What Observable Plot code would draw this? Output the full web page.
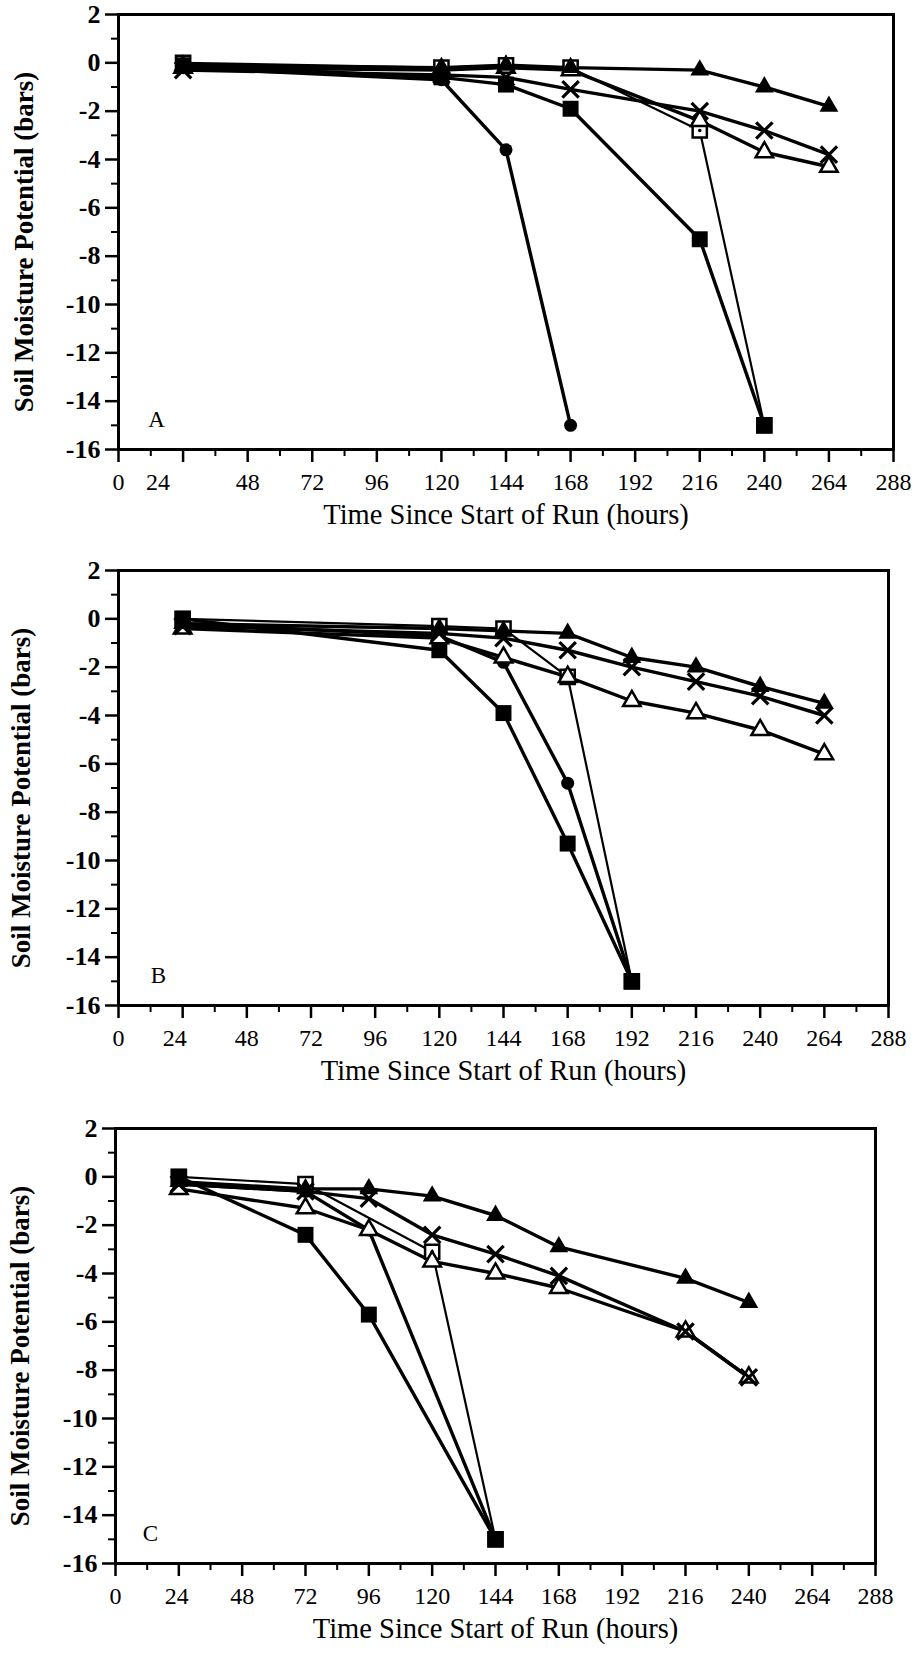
<!DOCTYPE html>
<html>
<head>
<meta charset="utf-8">
<script src="https://cdn.jsdelivr.net/npm/d3@7"></script>
<script src="https://cdn.jsdelivr.net/npm/@observablehq/plot@0.6"></script>
<style>
html, body { margin: 0; padding: 0; background: #fff; }
#root { position: relative; width: 919px; height: 1661px; background: #fff; }
.panel { position: absolute; left: 0; }
.panel text { font-family: 'Liberation Serif', 'Times New Roman', serif; }
</style>
</head>
<body>
<div id="root"></div>
<script>
// ---------- tick values ----------
const yTicks = [2, 0, -2, -4, -6, -8, -10, -12, -14, -16];
const yMinor = [1, -1, -3, -5, -7, -9, -11, -13, -15];
const xTicks = [0, 24, 48, 72, 96, 120, 144, 168, 192, 216, 240, 264, 288];
const xMinor = [12, 36, 60, 84, 108, 132, 156, 180, 204, 228, 252, 276];

const yTitle = "Soil Moisture Potential (bars)";
const xTitle = "Time Since Start of Run (hours)";
const panelLetters = ["A", "B", "C"];

// ---------- data: [hours, bars] ----------
// Panel A
const A_filledSquare   = [[24, -0.1], [120, -0.6], [144, -0.9], [168, -1.9], [216, -7.3], [240, -15]];
const A_openSquare     = [[24, 0.0], [120, -0.2], [144, -0.1], [168, -0.2], [216, -2.8], [240, -15]];
const A_filledCircle   = [[24, -0.2], [120, -0.7], [144, -3.6], [168, -15]];
const A_cross          = [[24, -0.3], [120, -0.5], [144, -0.6], [168, -1.1], [216, -2.0], [240, -2.8], [264, -3.8]];
const A_filledTriangle = [[24, -0.1], [120, -0.2], [144, -0.1], [168, -0.2], [216, -0.3], [240, -1.0], [264, -1.8]];
const A_openTriangle   = [[24, -0.2], [120, -0.3], [144, -0.2], [168, -0.3], [216, -2.4], [240, -3.7], [264, -4.3]];

// Panel B
const B_filledSquare   = [[24, 0.0], [120, -1.3], [144, -3.9], [168, -9.3], [192, -15]];
const B_openSquare     = [[24, 0.0], [120, -0.3], [144, -0.4], [168, -2.4], [192, -15]];
const B_filledCircle   = [[24, -0.2], [120, -0.7], [144, -1.8], [168, -6.8], [192, -15]];
const B_cross          = [[24, -0.3], [120, -0.6], [144, -0.8], [168, -1.3], [192, -2.0], [216, -2.6], [240, -3.2], [264, -4.0]];
const B_filledTriangle = [[24, -0.2], [120, -0.4], [144, -0.5], [168, -0.6], [192, -1.6], [216, -2.0], [240, -2.8], [264, -3.5]];
const B_openTriangle   = [[24, -0.4], [120, -0.8], [144, -1.6], [168, -2.4], [192, -3.4], [216, -3.9], [240, -4.6], [264, -5.6]];

// Panel C
const C_filledSquare   = [[24, 0.0], [72, -2.4], [96, -5.7], [144, -15]];
const C_openSquare     = [[24, 0.0], [72, -0.3], [120, -3.1], [144, -15]];
const C_filledCircle   = [[24, -0.3], [72, -0.6], [96, -2.2], [144, -15]];
const C_cross          = [[24, -0.3], [72, -0.6], [96, -0.9], [120, -2.4], [144, -3.2], [168, -4.1], [216, -6.4], [240, -8.3]];
const C_filledTriangle = [[24, -0.2], [72, -0.5], [96, -0.5], [120, -0.8], [144, -1.6], [168, -2.9], [216, -4.2], [240, -5.2]];
const C_openTriangle   = [[24, -0.5], [72, -1.3], [96, -2.2], [120, -3.5], [144, -4.0], [168, -4.6], [216, -6.4], [240, -8.3]];

const panelsData = [
  {openSquare: A_openSquare, filledCircle: A_filledCircle, openTriangle: A_openTriangle, filledTriangle: A_filledTriangle, cross: A_cross, filledSquare: A_filledSquare},
  {openSquare: B_openSquare, filledCircle: B_filledCircle, openTriangle: B_openTriangle, filledTriangle: B_filledTriangle, cross: B_cross, filledSquare: B_filledSquare},
  {openSquare: C_openSquare, filledCircle: C_filledCircle, openTriangle: C_openTriangle, filledTriangle: C_filledTriangle, cross: C_cross, filledSquare: C_filledSquare}
];

// ---------- layout ----------
const layouts = [
  {top: 0,    left: 118, right: 26, titleDx: -94, letterDx: 38, shift24: -25},
  {top: 556,  left: 118, right: 31, titleDx: -97, letterDx: 40, shift24: -8},
  {top: 1114, left: 115, right: 44, titleDx: -95, letterDx: 35, shift24: -2}
];
const MT = 14, PH = 435, MB = 92;
const FONT = "'Liberation Serif', 'Times New Roman', serif";

function rowsOf(series) {
  const rows = [];
  for (const [s, pts] of Object.entries(series)) for (const [h, v] of pts) rows.push({s, h, v});
  return rows;
}

function makePanel(i) {
  const series = panelsData[i];
  const L = layouts[i];
  const rows = rowsOf(series);
  const of = (s) => rows.filter(d => d.s === s);
  const thin = rows.filter(d => d.s === "openSquare");
  const thick = rows.filter(d => d.s !== "openSquare");
  const xMain = xTicks.filter(t => t !== 24);
  const txt = {fontFamily: FONT};

  const plot = Plot.plot({
    width: 919,
    height: MT + PH + MB,
    marginTop: MT,
    marginBottom: MB,
    marginLeft: L.left,
    marginRight: L.right,
    style: {fontFamily: FONT, fontSize: "24px", color: "black", background: "transparent", overflow: "visible"},
    x: {domain: [0, 288]},
    y: {domain: [-16, 2]},
    marks: [
      Plot.axisY(yMinor, {...txt, tickSize: 7, strokeWidth: 2, tickFormat: () => "", label: null}),
      Plot.axisY(yTicks, {...txt, tickSize: 13, strokeWidth: 2.5, tickPadding: 5, tickFormat: d => String(d), fontSize: 26, fontWeight: "bold", label: null}),
      Plot.axisX(xMinor, {...txt, tickSize: 7, strokeWidth: 2, tickFormat: () => "", label: null}),
      Plot.axisX(xMain, {...txt, tickSize: 13, strokeWidth: 2.5, tickPadding: 10, tickFormat: d => String(d), fontSize: 24, label: null}),
      Plot.axisX([24], {...txt, tickSize: 13, strokeWidth: 2.5, tickFormat: () => "", label: null}),
      Plot.axisX([24], {...txt, tickSize: 0, tickPadding: 23, dx: L.shift24, tickFormat: d => String(d), fontSize: 24, label: null}),
      Plot.frame({strokeWidth: 3}),
      Plot.line(thin, {x: "h", y: "v", z: "s", stroke: "black", strokeWidth: 2.2}),
      Plot.line(thick, {x: "h", y: "v", z: "s", stroke: "black", strokeWidth: 3.4}),
      Plot.dot(of("openSquare"), {x: "h", y: "v", symbol: "square", r: 8, fill: "white", stroke: "black", strokeWidth: 2.5}),
      Plot.dot(of("openSquare"), {x: "h", y: "v", r: 1.8, fill: "black", stroke: "none"}),
      Plot.dot(of("filledCircle"), {x: "h", y: "v", symbol: "circle", r: 6.5, fill: "black", stroke: "none"}),
      Plot.dot(of("openTriangle"), {x: "h", y: "v", symbol: "triangle", r: 6.5, fill: "white", stroke: "black", strokeWidth: 2.5}),
      Plot.dot(of("filledTriangle"), {x: "h", y: "v", symbol: "triangle", r: 7, fill: "black", stroke: "none"}),
      Plot.dot(of("cross"), {x: "h", y: "v", symbol: "times", r: 7.5, stroke: "black", strokeWidth: 3.2}),
      Plot.dot(of("filledSquare"), {x: "h", y: "v", symbol: "square", r: 9, fill: "black", stroke: "none"}),
      Plot.text([yTitle], {...txt, text: d => d, frameAnchor: "left", textAnchor: "middle", lineAnchor: "middle", rotate: -90, dx: L.titleDx, dy: 10, fontSize: 27, fontWeight: "bold"}),
      Plot.text([xTitle], {...txt, text: d => d, frameAnchor: "bottom", textAnchor: "middle", lineAnchor: "middle", dy: 65, fontSize: 28.5}),
      Plot.text([panelLetters[i]], {...txt, text: d => d, frameAnchor: "bottom-left", textAnchor: "middle", lineAnchor: "middle", dx: L.letterDx, dy: -30, fontSize: 23})
    ]
  });
  plot.classList.add("panel");
  plot.style.top = L.top + "px";
  return plot;
}

const root = document.getElementById("root");
for (let i = 0; i < 3; i++) root.appendChild(makePanel(i));
</script>
</body>
</html>
